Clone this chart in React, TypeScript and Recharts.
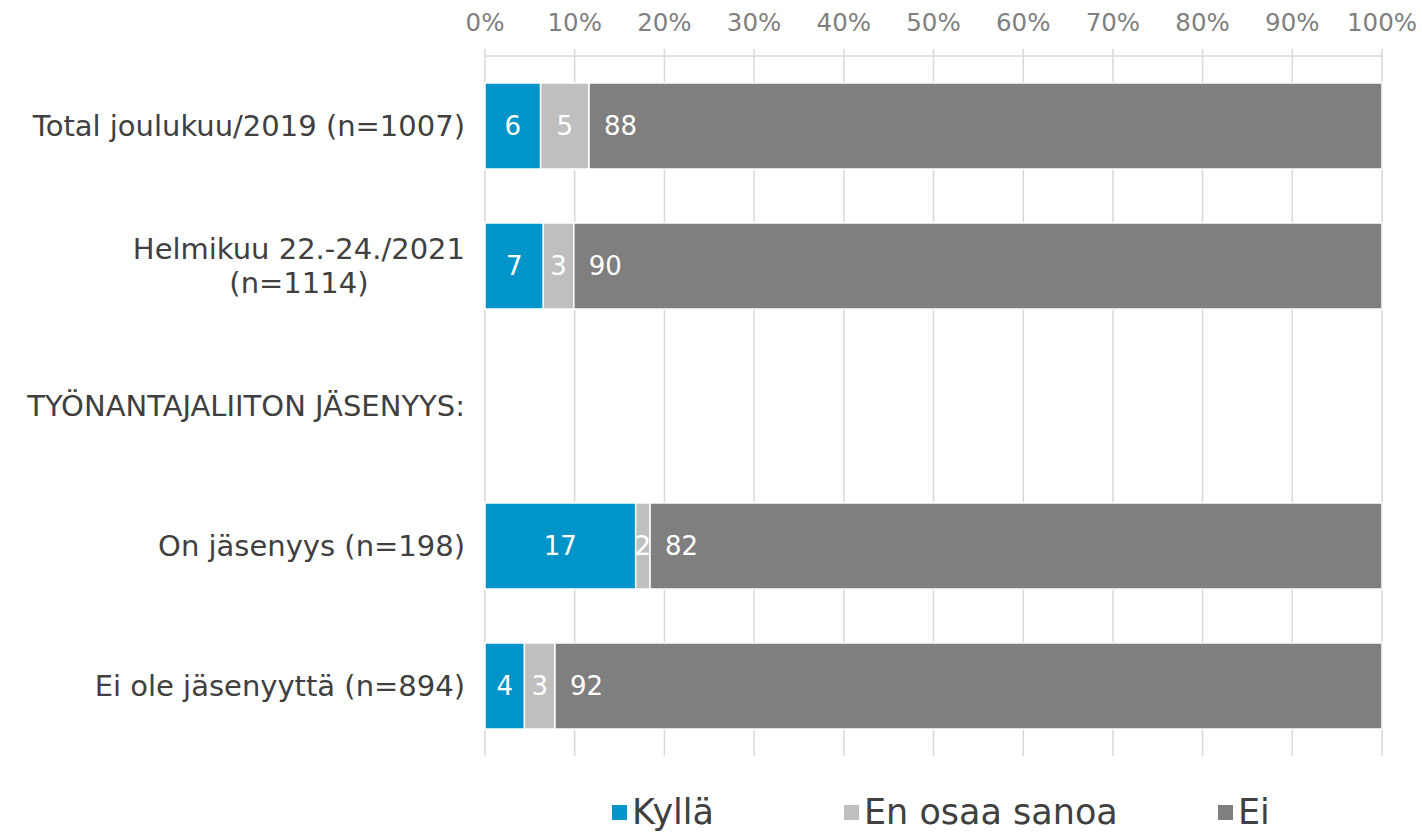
import React from "react"
import { BarChart, Bar, XAxis, YAxis, CartesianGrid, LabelList } from "recharts"

const categories = [
  "Total joulukuu/2019 (n=1007)",
  "Helmikuu 22.-24./2021\n(n=1114)",
  "TYÖNANTAJALIITON JÄSENYYS:",
  "On jäsenyys (n=198)",
  "Ei ole jäsenyyttä (n=894)",
]
const kylla = [6.2, 6.5, null, 16.8, 4.4]
const enOsaa = [5.4, 3.4, null, 1.6, 3.4]
const ei = [88.4, 90.1, null, 81.6, 92.2]
const xTicks = [0, 10, 20, 30, 40, 50, 60, 70, 80, 90, 100]

const SERIES = [
  { key: "kylla", name: "Kyllä", color: "#0094C8" },
  { key: "enOsaa", name: "En osaa sanoa", color: "#BFBFBF" },
  { key: "ei", name: "Ei", color: "#7F7F7F" },
]

const data = categories.map((name, i) => ({
  name,
  kylla: kylla[i],
  enOsaa: enOsaa[i],
  ei: ei[i],
}))

const FONT = "DejaVu Sans, Verdana, sans-serif"
const LABEL_SIZE = 29

let ctx: CanvasRenderingContext2D | null = null
function measure(text: string) {
  if (!ctx) ctx = document.createElement("canvas").getContext("2d")
  if (!ctx) return text.length * LABEL_SIZE * 0.6
  ctx.font = `${LABEL_SIZE}px "DejaVu Sans"`
  return ctx.measureText(text).width
}

function CategoryTick(props: any) {
  const { x, y, payload } = props
  const lines = String(payload.value).split("\n")
  const right = x - 12
  if (lines.length === 1) {
    return (
      <text x={right} y={y} dy="0.36em" textAnchor="end" fill="#404040" fontSize={LABEL_SIZE} fontFamily={FONT}>
        {lines[0]}
      </text>
    )
  }
  const w = Math.max(...lines.map(measure))
  const cx = right - w / 2
  const lh = 34
  const start = y - ((lines.length - 1) * lh) / 2
  return (
    <text textAnchor="middle" fill="#404040" fontSize={LABEL_SIZE} fontFamily={FONT}>
      {lines.map((l, i) => (
        <tspan key={i} x={cx} y={start + i * lh} dy="0.36em">
          {l}
        </tspan>
      ))}
    </text>
  )
}

const fmt = (v: any) => (v == null ? "" : Math.round(v))

// legend item widths, roughly how Excel spaced them
const itemWidths = [232, 374, 100]

function ChartLegend() {
  return (
    <div style={{ position: "absolute", left: 612, top: 792, display: "flex", fontFamily: FONT }}>
      {SERIES.map((s, i) => (
        <div key={s.key} style={{ width: itemWidths[i], display: "flex", alignItems: "center" }}>
          <span style={{ width: 15, height: 15, background: s.color, display: "inline-block", marginRight: 5 }} />
          <span style={{ fontSize: 35, color: "#404040", lineHeight: "40px", whiteSpace: "nowrap" }}>{s.name}</span>
        </div>
      ))}
    </div>
  )
}

export default function App() {
  return (
    <div style={{ position: "absolute", left: 0, top: 0, width: 1422, height: 832, background: "#fff" }}>
      <BarChart
        width={1422}
        height={832}
        data={data}
        layout="vertical"
        margin={{ top: 26, right: 40, bottom: 76, left: 0 }}
        barSize={86}
      >
        <CartesianGrid horizontal={false} stroke="#D9D9D9" strokeWidth={1.5} />
        <XAxis
          type="number"
          orientation="top"
          height={30}
          domain={[0, 100]}
          ticks={xTicks}
          tickFormatter={(v) => `${v}%`}
          axisLine={{ stroke: "#D9D9D9", strokeWidth: 1.5 }}
          tickLine={{ stroke: "#D9D9D9", strokeWidth: 1.5 }}
          tickSize={7}
          tickMargin={18}
          tick={{ fill: "#808080", fontSize: 24.5, fontFamily: FONT }}
          interval={0}
        />
        <YAxis
          type="category"
          dataKey="name"
          width={485}
          axisLine={false}
          tickLine={false}
          tick={<CategoryTick />}
          interval={0}
        />
        {SERIES.map((s) => (
          <Bar
            key={s.key}
            dataKey={s.key}
            name={s.name}
            stackId="a"
            fill={s.color}
            stroke="#FFFFFF"
            strokeWidth={1.5}
            isAnimationActive={false}
          >
            <LabelList
              dataKey={s.key}
              position={s.key === "ei" ? "insideLeft" : "center"}
              offset={15}
              formatter={fmt}
              fill="#FFFFFF"
              fontSize={26}
              fontFamily={FONT}
            />
          </Bar>
        ))}
      </BarChart>
      <ChartLegend />
    </div>
  )
}
